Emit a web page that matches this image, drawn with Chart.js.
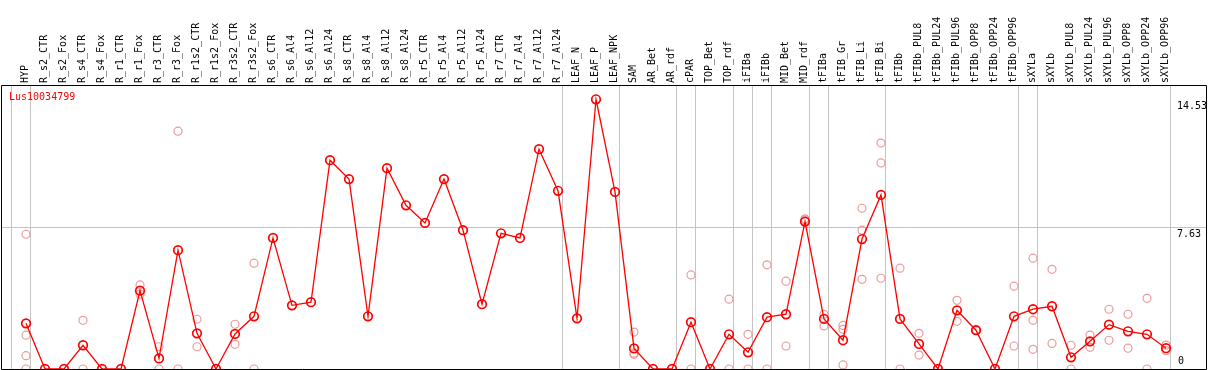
<!DOCTYPE html>
<html>
<head>
<meta charset="utf-8">
<script src="https://cdn.jsdelivr.net/npm/chart.js@4.4.1/dist/chart.umd.min.js"></script>
<style>
  html, body { margin: 0; padding: 0; background: #fff; }
  canvas { display: block; }
</style>
</head>
<body>
<canvas id="chart" width="1209" height="370"></canvas>
<script>
// gene shown
const geneId = 'Lus10034799';

// tissue / condition names, left to right
const categories = [
  'HYP', 'R_s2_CTR', 'R_s2_Fox', 'R_s4_CTR', 'R_s4_Fox', 'R_r1_CTR', 'R_r1_Fox', 'R_r3_CTR', 'R_r3_Fox',
  'R_r1s2_CTR', 'R_r1s2_Fox', 'R_r3s2_CTR', 'R_r3s2_Fox', 'R_s6_CTR', 'R_s6_Al4', 'R_s6_Al12', 'R_s6_Al24',
  'R_s8_CTR', 'R_s8_Al4', 'R_s8_Al12', 'R_s8_Al24', 'R_r5_CTR', 'R_r5_Al4', 'R_r5_Al12', 'R_r5_Al24',
  'R_r7_CTR', 'R_r7_Al4', 'R_r7_Al12', 'R_r7_Al24', 'LEAF_N', 'LEAF_P', 'LEAF_NPK', 'SAM', 'AR_Bet', 'AR_rdf',
  'cPAR', 'TOP_Bet', 'TOP_rdf', 'iFIBa', 'iFIBb', 'MID_Bet', 'MID_rdf', 'tFIBa', 'tFIB_Gr', 'tFIB_Li', 'tFIB_Bi',
  'tFIBb', 'tFIBb_PUL8', 'tFIBb_PUL24', 'tFIBb_PUL96', 'tFIBb_OPP8', 'tFIBb_OPP24', 'tFIBb_OPP96',
  'sXYLa', 'sXYLb', 'sXYLb_PUL8', 'sXYLb_PUL24', 'sXYLb_PUL96', 'sXYLb_OPP8', 'sXYLb_OPP24', 'sXYLb_OPP96'
];

// mean expression (red line)
const meanValues = [
  2.46, 0, 0, 1.28, 0, 0, 4.22, 0.57, 6.4,
  1.92, 0, 1.89, 2.84, 7.06, 3.43, 3.6, 11.25,
  10.23, 2.84, 10.82, 8.82, 7.87, 10.23, 7.48, 3.49,
  7.31, 7.06, 11.84, 9.6, 2.73, 14.53, 9.54, 1.11, 0, 0,
  2.52, 0, 1.87, 0.9, 2.79, 2.95, 7.94, 2.7, 1.55, 7.0, 9.38,
  2.7, 1.35, 0, 3.16, 2.09, 0, 2.84,
  3.22, 3.38, 0.63, 1.49, 2.39, 2.03, 1.87, 1.12
];

// single replicates (pink circles), one list per category
const replicateValues = [
  [7.26, 1.82, 0.72, 0], [], [], [2.62, 0], [], [], [4.53, 4.03], [1.2, 0], [12.81, 0],
  [2.68, 1.2], [], [2.41, 1.33], [5.7, 0], [], [], [], [],
  [], [], [], [], [], [], [], [],
  [], [], [], [], [], [], [], [1.99, 0.85, 0.79], [], [],
  [5.07, 0], [], [3.76, 0], [1.87, 0], [5.61, 0], [4.73, 1.24], [8.09, 8.03], [2.95, 2.32], [2.35, 2.14, 0.22], [8.66, 7.48, 4.83], [12.17, 11.1, 4.89],
  [5.43, 0], [1.92, 0.75], [], [3.7, 2.57], [2.12, 2.06], [], [4.46, 1.24],
  [5.97, 2.62, 1.06], [5.37, 1.38], [1.28, 0], [1.83, 1.17], [3.22, 1.55], [2.95, 1.12], [3.81, 0], [1.29, 0.99]
];

// y tick labels
const yTicks = [0, 7.63, 14.53];

// group separators: vertical line after these category numbers
const groupEnds = [0, 1, 29, 32, 35, 36, 38, 39, 40, 42, 43, 46, 53, 54, 61];

const xMin = -0.316, xMax = 63.105;
const monoFont = { family: 'DejaVu Sans Mono', size: 10 };

const meanPoints = meanValues.map((v, i) => ({ x: i + 1, y: v }));
const repPoints = replicateValues.flatMap((vals, i) => vals.map(v => ({ x: i + 1, y: v })));

function noPadding(axis) {
    axis.paddingLeft = 0;
    axis.paddingRight = 0;
    axis.paddingTop = 0;
    axis.paddingBottom = 0;
}

// frame, y labels and gene name
const framePlugin = {
    id: 'frame',
    afterDraw(chart) {
        const { ctx, chartArea: a } = chart;
        const y = chart.scales.y;
        ctx.save();
        ctx.strokeStyle = '#000';
        ctx.lineWidth = 1;
        ctx.beginPath();
        ctx.moveTo(a.left + 0.5, a.top + 0.5);
        ctx.lineTo(a.right + 0.5, a.top + 0.5);
        ctx.lineTo(a.right + 0.5, a.bottom + 0.5);
        ctx.lineTo(a.left + 0.5, a.bottom + 0.5);
        ctx.closePath();
        ctx.stroke();

        ctx.font = '10px "DejaVu Sans Mono"';
        ctx.fillStyle = '#000';
        ctx.textAlign = 'left';
        yTicks.forEach(v => {
            const py = y.getPixelForValue(v);
            if (v === 0) {
                ctx.textBaseline = 'bottom';
                ctx.fillText(String(v), 1178, py - 3);
            } else {
                ctx.textBaseline = 'top';
                ctx.fillText(String(v), 1177, py + 2);
            }
        });

        ctx.fillStyle = '#ff0000';
        ctx.textBaseline = 'top';
        ctx.fillText(geneId, 9, a.top + 7);
        ctx.restore();
    }
};

const ctx = document.getElementById('chart').getContext('2d');
new Chart(ctx, {
    type: 'line',
    data: {
        datasets: [
            {
                label: 'mean',
                data: meanPoints,
                borderColor: '#ff0000',
                borderWidth: 1.3,
                pointStyle: 'circle',
                pointRadius: 4.3,
                pointBorderWidth: 1.7,
                pointBorderColor: '#ff0000',
                pointBackgroundColor: 'rgba(0,0,0,0)',
                tension: 0,
                fill: false,
                xAxisID: 'x',
                yAxisID: 'y'
            },
            {
                label: 'replicates',
                data: repPoints,
                showLine: false,
                pointStyle: 'circle',
                pointRadius: 4,
                pointBorderWidth: 1.2,
                pointBorderColor: '#ec9a9a',
                pointBackgroundColor: 'rgba(0,0,0,0)',
                xAxisID: 'x',
                yAxisID: 'y'
            }
        ]
    },
    options: {
        responsive: false,
        animation: false,
        devicePixelRatio: 1,
        layout: { autoPadding: false, padding: { left: 1, right: 3, top: 0, bottom: 1 } },
        plugins: {
            legend: { display: false },
            tooltip: { enabled: false }
        },
        scales: {
            x: {
                type: 'linear',
                position: 'top',
                min: xMin,
                max: xMax,
                afterBuildTicks: axis => { axis.ticks = categories.map((_, i) => ({ value: i + 1 })); },
                afterFit: axis => { axis.height = 85; noPadding(axis); },
                grid: { display: false, drawTicks: false },
                border: { display: false },
                ticks: {
                    autoSkip: false,
                    minRotation: 90,
                    maxRotation: 90,
                    padding: 2,
                    labelOffset: 11,
                    color: '#000',
                    font: monoFont,
                    callback: v => categories[v - 1]
                }
            },
            x2: {
                type: 'linear',
                position: 'bottom',
                min: xMin,
                max: xMax,
                afterBuildTicks: axis => { axis.ticks = groupEnds.map(k => ({ value: k + 0.225 })); },
                afterFit: axis => { axis.height = 0; noPadding(axis); },
                grid: { color: '#c4c4c4', lineWidth: 1, drawTicks: false },
                border: { display: false },
                ticks: { display: false }
            },
            y: {
                type: 'linear',
                position: 'right',
                min: 0,
                max: 15.3,
                afterBuildTicks: axis => { axis.ticks = yTicks.map(v => ({ value: v })); },
                afterFit: axis => { axis.width = 0; noPadding(axis); },
                grid: {
                    drawTicks: false,
                    color: c => (c.tick && c.tick.value === 7.63) ? '#c4c4c4' : 'rgba(0,0,0,0)'
                },
                border: { display: false },
                ticks: { display: false }
            }
        }
    },
    plugins: [framePlugin]
});
</script>
</body>
</html>
